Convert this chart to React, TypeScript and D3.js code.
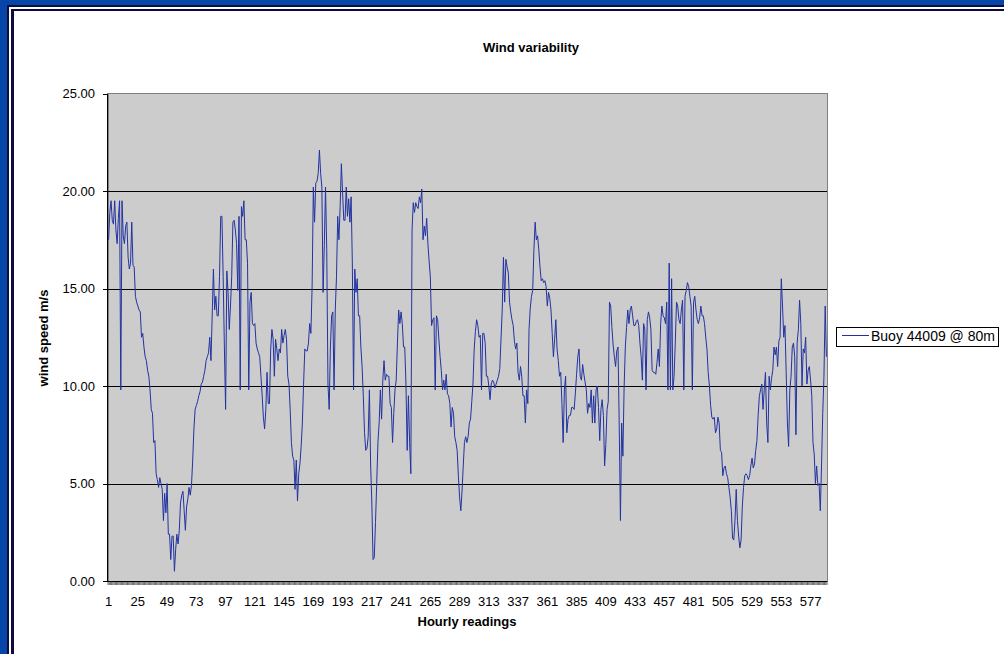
import React from 'react';
import * as d3 from 'd3';

// Wind speed (m/s) at buoy 44009 @ 80m, hourly readings
const seg001 = [
  17.5, 18.9, 19.5, 18.5, 18.3, 19.5, 18.0, 17.3, 18.6, 19.5,
  9.8, 19.5, 17.7, 17.3, 18.2, 18.4, 16.6, 16.0, 16.3, 18.4,
  16.2, 16.1, 14.6, 14.3, 14.1, 13.9, 13.8, 12.5, 12.7, 12.0,
  11.5, 11.3, 10.8, 10.5, 9.8, 8.8, 8.6, 7.1, 7.2, 5.5,
  5.2, 4.8, 5.3, 5.0, 4.7, 3.1, 4.5, 3.5, 5.0, 2.4,
  2.4, 1.1, 2.3, 2.3, 0.5, 1.6, 2.4, 1.9, 2.6, 4.0,
  4.4, 4.6, 3.6, 2.6, 3.8, 4.2, 4.8, 4.4, 4.9, 6.2,
  7.8, 8.8, 9.0, 9.2, 9.5, 9.7, 10.1, 10.2, 10.5, 10.8,
  11.3, 11.5,
];
const seg083 = [
  11.7, 12.5, 11.3, 13.6, 16.0, 13.9, 14.6, 13.6, 13.6, 15.6,
  18.7, 18.7, 15.6, 12.0, 8.8, 15.9, 14.8, 12.9, 14.1, 15.6,
  18.4, 18.5, 18.0, 17.3, 14.9, 18.7, 9.8, 19.2, 18.7, 19.5,
  17.5, 17.5, 16.3, 9.8, 14.3, 14.8, 13.2, 13.1, 13.2, 12.2,
  11.9, 11.7, 11.5, 10.5, 9.5, 8.4, 7.8, 8.8, 10.7, 9.1,
  9.1, 11.9, 12.9, 12.4, 10.5, 12.4, 11.9, 11.3, 11.9, 11.7,
  12.9, 12.2, 12.6, 12.9, 12.4, 10.5, 10.1, 8.8, 7.1, 6.4,
  6.2, 4.7, 6.2, 4.1, 5.5, 6.0, 6.9, 8.1, 10.1, 11.9,
  11.8, 11.8, 12.2, 13.2, 12.7, 15.1,
];
const seg169 = [
  20.2, 18.4, 20.4, 20.5, 20.9, 22.1, 20.9, 20.2, 14.8, 17.2,
  20.2, 17.0, 10.1, 8.8, 12.0, 13.6, 13.8, 9.8, 13.9, 15.6,
  18.7, 17.5, 19.2, 21.4, 19.9, 18.5, 18.5, 20.2, 18.7, 19.6,
  18.4, 19.7, 16.3, 9.8, 16.0, 14.8, 15.5, 13.6, 13.6, 12.0,
  11.0, 9.5, 7.6, 6.7, 6.8, 7.4, 9.8, 6.0, 4.0, 1.1,
  1.2, 3.0, 5.0, 7.1, 8.1, 9.8, 8.3, 10.3, 11.3, 10.3,
  10.6, 10.5, 10.5, 9.1, 8.9, 7.1, 8.6, 9.8, 10.3, 12.2,
  13.9, 13.2, 13.8, 13.2, 12.0, 12.0, 10.1, 6.7, 9.5, 7.1,
  5.5, 18.0, 19.4, 18.9, 19.4, 19.2,
];
const seg255 = [
  19.1, 19.7, 19.4, 20.1, 17.5, 18.2, 17.7, 18.6, 17.3, 16.4,
  15.6, 13.1, 13.4, 13.5, 9.8, 13.6, 13.4, 12.4, 11.5, 10.8,
  9.8, 10.3, 9.8, 10.6, 9.6, 9.5, 9.1, 7.9, 8.9, 8.6,
  7.4, 7.1, 6.7, 5.4, 4.3, 3.6, 4.6, 5.9, 7.1, 7.4,
  7.1, 7.4, 8.1, 8.3, 9.2, 10.1, 11.9, 12.8, 13.4, 13.1,
  12.5, 12.6, 9.8, 12.7, 12.7, 12.2, 10.5, 10.5, 10.0, 9.3,
  10.1, 10.3, 10.2, 9.9, 10.1, 10.3, 10.5, 10.9, 12.4, 13.9,
  16.6, 14.3, 16.5, 16.1, 15.8, 14.3, 13.8, 13.4, 13.1, 12.3,
  11.9, 12.2, 10.7, 10.3, 11.0, 10.5,
];
const seg341 = [
  9.5, 9.5, 8.1, 9.8, 9.1, 12.9, 14.0, 14.6, 14.9, 17.0,
  18.4, 17.5, 17.7, 17.0, 16.1, 15.4, 15.5, 15.3, 15.4, 15.1,
  14.1, 14.8, 14.5, 13.9, 12.7, 11.5, 12.4, 13.4, 11.9, 11.3,
  10.5, 10.7, 9.1, 7.1, 9.8, 10.5, 7.6, 8.3, 8.5, 8.5,
  8.9, 8.9, 8.8, 9.6, 10.6, 11.5, 11.9, 10.5, 10.3, 11.1,
  10.6, 10.2, 9.8, 8.6, 9.1, 8.9, 9.8, 8.1, 9.5, 8.1,
  9.8, 10.0, 8.9, 7.2, 8.8, 9.3, 8.5, 5.9, 7.0, 8.8,
  9.2, 14.3, 14.1, 13.0, 12.1, 11.5, 11.0, 11.8, 12.0, 8.0,
  3.1, 8.1, 6.4, 9.9, 12.0, 13.0,
];
const seg427 = [
  13.9, 13.2, 13.9, 14.1, 13.6, 13.1, 13.1, 13.3, 13.4, 13.1,
  12.2, 11.5, 10.3, 13.2, 12.9, 9.8, 13.4, 13.8, 13.5, 12.9,
  10.8, 10.7, 10.7, 10.6, 11.2, 11.9, 11.0, 13.2, 14.1, 13.6,
  13.5, 13.2, 14.3, 9.8, 16.3, 9.8, 15.5, 9.8, 10.5, 12.2,
  14.3, 14.1, 13.4, 13.2, 13.9, 14.4, 9.8, 14.6, 14.9, 15.3,
  15.1, 14.6, 14.1, 9.8, 14.3, 14.6, 13.9, 13.4, 13.2, 13.5,
  14.1, 13.6, 13.6, 13.2, 12.5, 11.9, 10.7, 10.0, 9.0, 8.4,
  8.3, 8.4, 7.6, 7.8, 8.4, 8.1, 6.7, 6.6, 5.4, 5.8,
  5.9, 5.5, 5.3, 4.8, 4.3, 3.6,
];
const seg513 = [
  2.2, 2.1, 3.1, 4.7, 3.1, 2.3, 1.7, 2.1, 3.8, 4.8,
  5.4, 5.5, 5.4, 5.2, 5.4, 5.9, 6.3, 5.8, 6.0, 6.7,
  7.2, 8.5, 9.5, 9.8, 10.1, 8.8, 9.8, 10.7, 8.1, 7.1,
  10.5, 9.8, 10.4, 10.8, 12.0, 11.6, 12.0, 11.0, 12.3, 12.5,
  15.5, 14.1, 12.5, 13.1, 10.7, 8.1, 6.9, 9.8, 10.5, 12.0,
  12.2, 11.5, 7.5, 12.2, 12.9, 14.4, 13.2, 10.0, 11.9, 11.7,
  12.5, 10.1, 10.8, 11.0, 10.3, 9.5, 7.1, 6.5, 5.0, 5.9,
  4.9, 5.0, 3.6, 5.9, 8.6, 10.5, 14.1, 11.5,
];
const windSpeed = [...seg001, ...seg083, ...seg169, ...seg255, ...seg341, ...seg427, ...seg513];
const hours = windSpeed.map((_, i) => i + 1);
const xTickLabels = [1, 25, 49, 73, 97, 121, 145, 169, 193, 217, 241, 265, 289, 313, 337, 361, 385, 409, 433, 457, 481, 505, 529, 553, 577];
const yTicks = [0, 5, 10, 15, 20, 25];
const seriesName = 'Buoy 44009 @ 80m';
const chartTitle = 'Wind variability';
const xTitle = 'Hourly readings';
const yTitle = 'wind speed m/s';

const FONT = '"Liberation Sans", Arial, Helvetica, sans-serif';

export default function App() {
  const W = 1004, H = 654;
  const left = 108, right = 827, top = 93.5, bottom = 581;
  const x = d3.scaleBand<number>().domain(hours).range([left, right]).paddingInner(0).paddingOuter(0);
  const bw = x.bandwidth();
  const cx = (h: number) => (x(h) as number) + bw / 2;
  const y = d3.scaleLinear().domain([0, 25]).range([bottom, top]);
  const line = d3.line<number>().x((_, i) => cx(hours[i])).y((d) => y(d));
  const path = line(windSpeed) || '';
  const minorTicks = d3.range(0, hours.length + 1).map((i) => left + i * bw);

  return (
    <div style={{ position: 'fixed', left: 0, top: 0 }}>
      <svg width={W} height={H} style={{ display: 'block' }} fontFamily={FONT}>
        <rect x={0} y={0} width={W} height={H} fill="#0646a8" />
        <rect x={7} y={5} width={W} height={H} fill="#0c0c3e" />
        <rect x={9} y={7} width={W} height={H} fill="#ffffff" />
        <rect x={11} y={9} width={W} height={H} fill="#0c0c3e" />
        <rect x={14} y={11} width={W} height={H} fill="#ffffff" />

        <text x={531} y={52} textAnchor="middle" fontWeight="bold" fontSize={13} fill="#000">{chartTitle}</text>

        <rect x={left} y={top} width={right - left} height={bottom - top} fill="#cccccc" stroke="#808080" strokeWidth={1} shapeRendering="crispEdges" />

        {yTicks.filter((t) => t > 0 && t < 25).map((t) => (
          <line key={'g' + t} x1={left} x2={right} y1={Math.round(y(t)) + 0.5} y2={Math.round(y(t)) + 0.5} stroke="#000" strokeWidth={1} />
        ))}

        <path d={path} fill="none" stroke="#2233a0" strokeWidth={1} strokeLinejoin="round" />

        <line x1={left - 0.5} x2={left - 0.5} y1={top} y2={bottom} stroke="#000" strokeWidth={1} />
        <line x1={left - 0.5} x2={right} y1={bottom + 0.5} y2={bottom + 0.5} stroke="#000" strokeWidth={1} />
        {yTicks.map((t) => (
          <g key={'y' + t}>
            <line x1={left - 5} x2={left} y1={Math.round(y(t)) + 0.5} y2={Math.round(y(t)) + 0.5} stroke="#000" strokeWidth={1} />
            <text x={95} y={y(t)} dy="0.35em" textAnchor="end" fontSize={13} fill="#000">{t.toFixed(2)}</text>
          </g>
        ))}
        {minorTicks.map((mx, i) => (
          <line key={'m' + i} x1={mx} x2={mx} y1={bottom} y2={bottom + 4} stroke="#000" strokeWidth={0.6} />
        ))}
        {xTickLabels.map((h) => (
          <text key={'x' + h} x={cx(h)} y={605.5} textAnchor="middle" fontSize={13} fill="#000">{h}</text>
        ))}

        <text x={467} y={626} textAnchor="middle" fontWeight="bold" fontSize={13} fill="#000">{xTitle}</text>
        <text transform="translate(48,338) rotate(-90)" textAnchor="middle" fontWeight="bold" fontSize={13} fill="#000">{yTitle}</text>

        <rect x={836.5} y={327.5} width={162} height={19} fill="#fff" stroke="#000" strokeWidth={1} />
        <line x1={842} x2={869} y1={335.5} y2={335.5} stroke="#2233a0" strokeWidth={1} />
        <text x={871} y={340.5} fontSize={14} fill="#000">{seriesName}</text>
      </svg>
    </div>
  );
}
